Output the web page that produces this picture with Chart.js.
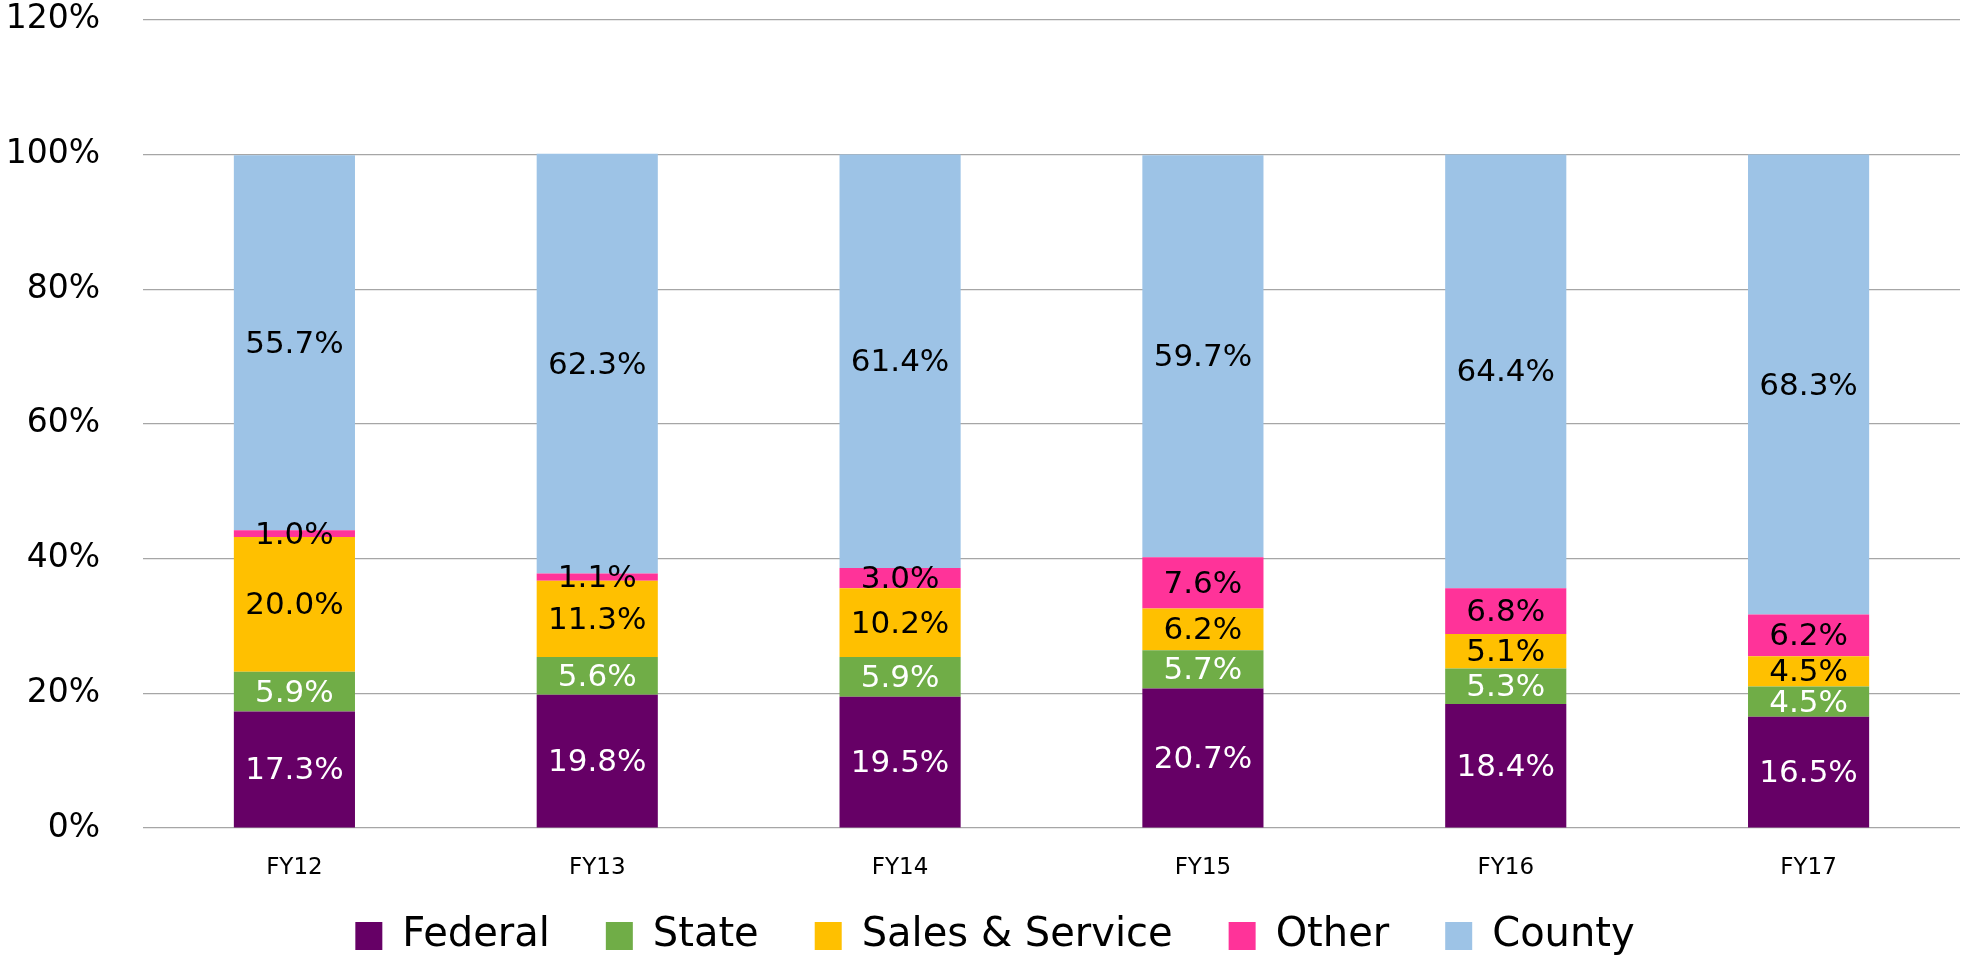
<!DOCTYPE html>
<html>
<head>
<meta charset="utf-8">
<script src="https://cdn.jsdelivr.net/npm/chart.js@4"></script>
<style>
    body { margin: 0; background: #fff; }
    #wrap { width: 1961px; height: 962px; }
</style>
</head>
<body>
<div id="wrap"><canvas id="revenueChart"></canvas></div>
<script>
// Data
const years = ["FY12", "FY13", "FY14", "FY15", "FY16", "FY17"]
const federal = [17.3, 19.8, 19.5, 20.7, 18.4, 16.5]
const state = [5.9, 5.6, 5.9, 5.7, 5.3, 4.5]
const salesService = [20.0, 11.3, 10.2, 6.2, 5.1, 4.5]
const other = [1.0, 1.1, 3.0, 7.6, 6.8, 6.2]
const county = [55.7, 62.3, 61.4, 59.7, 64.4, 68.3]
const yTicks = [0, 20, 40, 60, 80, 100, 120]

const FONT = "'Comic Sans MS', 'DejaVu Sans', sans-serif"

// Value labels drawn in the middle of each segment
const segmentLabels = {
    id: "segmentLabels",
    afterDatasetsDraw(chart) {
        const ctx = chart.ctx
        ctx.save()
        ctx.font = "31px " + FONT
        ctx.textAlign = "center"
        ctx.textBaseline = "middle"
        chart.data.datasets.forEach((ds, i) => {
            const meta = chart.getDatasetMeta(i)
            ctx.fillStyle = ds.labelColor
            meta.data.forEach((bar, j) => {
                const p = bar.getCenterPoint()
                ctx.fillText(ds.data[j].toFixed(1) + "%", p.x, p.y + 2)
            })
        })
        ctx.restore()
    },
}

// nudge the legend a bit right/down, like the original
const legendNudge = {
    id: "legendNudge",
    afterLayout(chart) {
        const lg = chart.legend
        lg.left += 15
        lg.right += 15
        lg.top += 4
        lg.bottom += 4
    },
}

const revenueChart = new Chart(document.getElementById("revenueChart"), {
    type: "bar",
    data: {
        labels: years,
        datasets: [
            { label: "Federal", data: federal, backgroundColor: "#660066", labelColor: "#ffffff" },
            { label: "State", data: state, backgroundColor: "#70AD47", labelColor: "#ffffff" },
            { label: "Sales & Service", data: salesService, backgroundColor: "#FFC000", labelColor: "#000000" },
            { label: "Other", data: other, backgroundColor: "#FF3399", labelColor: "#000000" },
            { label: "County", data: county, backgroundColor: "#9DC3E6", labelColor: "#000000" },
        ],
    },
    options: {
        responsive: true,
        maintainAspectRatio: false,
        animation: false,
        layout: { padding: { left: 0, right: 1, top: 2, bottom: 0 } },
        datasets: {
            bar: { categoryPercentage: 1, barPercentage: 0.4, borderWidth: 0 },
        },
        scales: {
            x: {
                stacked: true,
                grid: { display: false, drawTicks: false },
                border: { display: false },
                // mirrored so the labels are not clipped to the (short) axis box
                ticks: { color: "#000", mirror: true, padding: -54, font: { family: FONT, size: 23 } },
                afterFit(scale) {
                    scale.height = 28
                },
            },
            y: {
                stacked: true,
                min: 0,
                max: 120,
                afterBuildTicks(scale) {
                    scale.ticks = yTicks.map((v) => ({ value: v }))
                },
                grid: { color: "#a6a6a6", lineWidth: 1.2, drawTicks: true, tickLength: 43, tickColor: "rgba(0,0,0,0)" },
                border: { display: false },
                ticks: {
                    color: "#000",
                    padding: 0,
                    font: { family: FONT, size: 33 },
                    callback: (v) => v + "%",
                },
                afterFit(scale) {
                    scale.width = 143
                },
            },
        },
        plugins: {
            legend: {
                position: "bottom",
                labels: {
                    color: "#000",
                    boxWidth: 27,
                    boxHeight: 28,
                    padding: 56,
                    font: { family: FONT, size: 40 },
                },
            },
            tooltip: { enabled: false },
        },
    },
    plugins: [segmentLabels, legendNudge],
})
</script>
</body>
</html>
